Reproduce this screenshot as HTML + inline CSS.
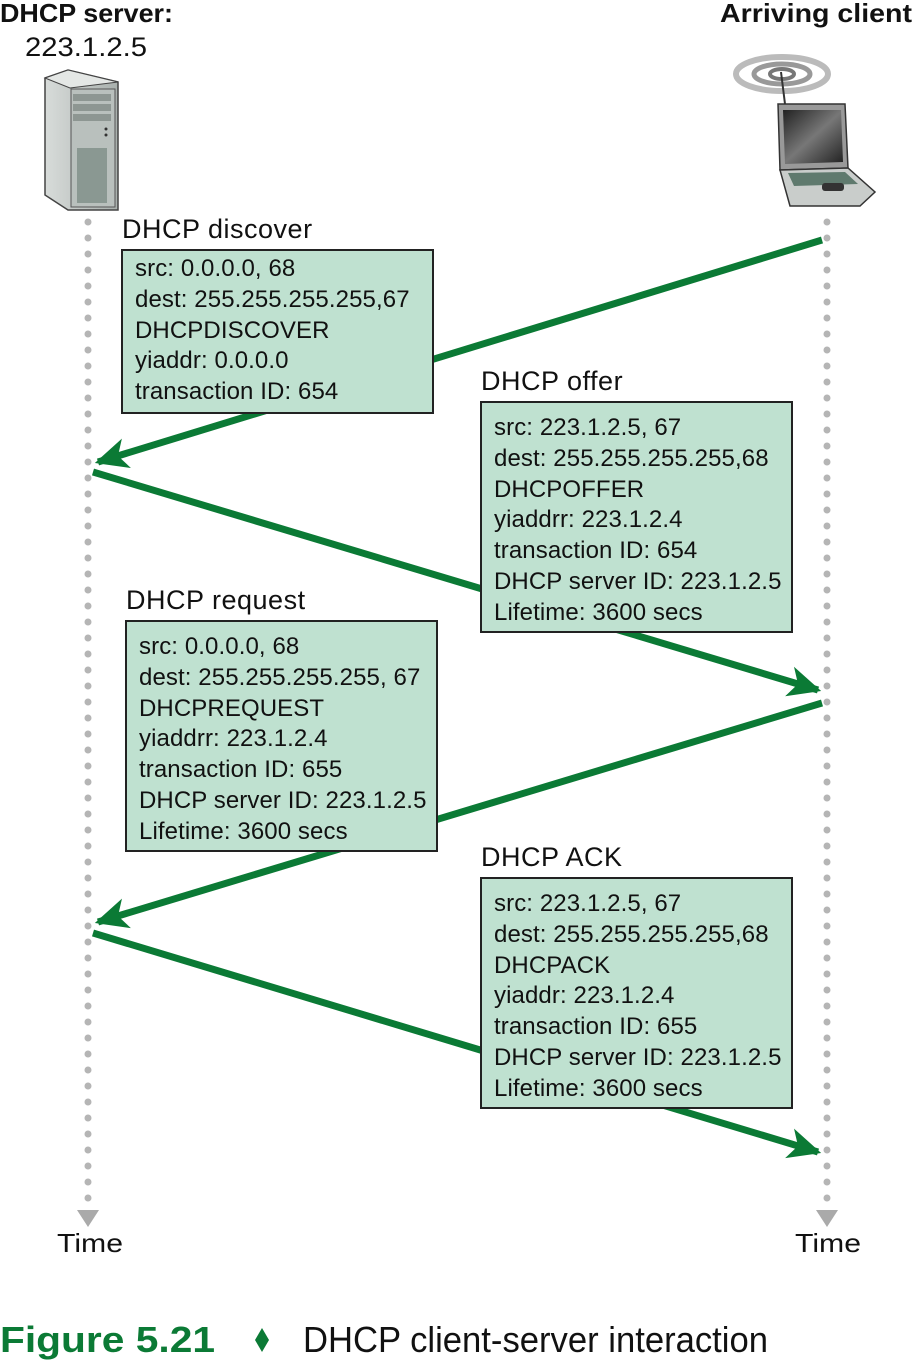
<!DOCTYPE html>
<html><head><meta charset="utf-8"><style>
html,body{margin:0;padding:0;background:#fff;}
svg{display:block;}
text{font-family:"Liberation Sans",sans-serif;fill:#111;}
</style></head><body>
<svg width="912" height="1360" viewBox="0 0 912 1360" xmlns="http://www.w3.org/2000/svg">
<defs>
<marker id="ah" markerUnits="userSpaceOnUse" markerWidth="44" markerHeight="44" refX="0" refY="0" orient="auto" viewBox="-32 -16 40 32">
<path d="M3,0 L-27,-14 L-19,0 L-27,14 Z" fill="#0b7a35"/>
</marker>
<linearGradient id="sv" x1="0" x2="1"><stop offset="0" stop-color="#d8dcda"/><stop offset="1" stop-color="#a9b0ad"/></linearGradient>
<linearGradient id="scr" x1="0" y1="0" x2="1" y2="1"><stop offset="0" stop-color="#222"/><stop offset=".5" stop-color="#777"/><stop offset="1" stop-color="#222"/></linearGradient>
</defs>
<text x="0" y="22" font-size="26" font-weight="bold" textLength="173" lengthAdjust="spacingAndGlyphs">DHCP server:</text>
<text x="25" y="56" font-size="27" textLength="122" lengthAdjust="spacingAndGlyphs">223.1.2.5</text>
<text x="720" y="22" font-size="26" font-weight="bold" textLength="192" lengthAdjust="spacingAndGlyphs">Arriving client</text>
<polygon points="45,78 68,70 118,82 118,210 68,210 45,195" fill="url(#sv)" stroke="#444" stroke-width="1.5"/>
<polygon points="45,78 68,70 118,82 70,88" fill="#e4e7e5" stroke="#444" stroke-width="1"/>
<rect x="71" y="89" width="44" height="118" fill="#b9c0bd" stroke="#555" stroke-width="1"/>
<rect x="73" y="94" width="38" height="7" fill="#8d9692"/>
<rect x="73" y="104" width="38" height="7" fill="#8d9692"/>
<rect x="73" y="114" width="38" height="7" fill="#8d9692"/>
<circle cx="106" cy="129" r="1.5" fill="#333"/><circle cx="106" cy="135" r="1.5" fill="#333"/>
<rect x="77" y="148" width="30" height="55" fill="#8a9892"/>
<ellipse cx="782" cy="74" rx="46" ry="17" fill="none" stroke="#bbb" stroke-width="6"/>
<ellipse cx="782" cy="74" rx="28" ry="10" fill="none" stroke="#999" stroke-width="5"/>
<ellipse cx="782" cy="74" rx="12" ry="5" fill="none" stroke="#777" stroke-width="4"/>
<line x1="781" y1="72" x2="785" y2="104" stroke="#333" stroke-width="2"/>
<polygon points="778,104 845,104 848,168 780,170" fill="#999" stroke="#333" stroke-width="1.5"/>
<polygon points="783,110 841,110 843,162 785,164" fill="url(#scr)"/>
<polygon points="780,170 848,168 875,192 860,206 790,206" fill="#c9cdcb" stroke="#333" stroke-width="1.5"/>
<polygon points="788,173 845,172 858,184 794,186" fill="#5f7a6e"/>
<rect x="822" y="183" width="22" height="8" rx="3" fill="#333"/>
<line x1="88" y1="222" x2="88" y2="1205" stroke="#b5b5b5" stroke-width="7" stroke-linecap="round" stroke-dasharray="0 16"/>
<line x1="827" y1="222" x2="827" y2="1205" stroke="#b5b5b5" stroke-width="7" stroke-linecap="round" stroke-dasharray="0 16"/>
<polygon points="77,1210 99,1210 88,1227" fill="#aaa"/>
<polygon points="816,1210 838,1210 827,1227" fill="#aaa"/>
<text x="57" y="1252" font-size="26" textLength="66" lengthAdjust="spacingAndGlyphs">Time</text>
<text x="795" y="1252" font-size="26" textLength="66" lengthAdjust="spacingAndGlyphs">Time</text>
<g stroke="#0b7a35" stroke-width="7" fill="none">
<line x1="822" y1="240" x2="98" y2="462" marker-end="url(#ah)"/>
<line x1="93" y1="472" x2="818" y2="690" marker-end="url(#ah)"/>
<line x1="822" y1="703" x2="98" y2="922" marker-end="url(#ah)"/>
<line x1="93" y1="933" x2="818" y2="1152" marker-end="url(#ah)"/>
</g>
<g fill="#bfe1d0" stroke="#222" stroke-width="2">
<rect x="122" y="250" width="311" height="163"/>
<rect x="481" y="402" width="311" height="230"/>
<rect x="126" y="621" width="311" height="230"/>
<rect x="481" y="878" width="311" height="230"/>
</g>
<g font-size="27" letter-spacing="0.5">
<text x="122" y="238">DHCP discover</text>
<text x="481" y="390">DHCP offer</text>
<text x="126" y="609">DHCP request</text>
<text x="481" y="866">DHCP ACK</text>
</g>
<g font-size="24" letter-spacing="0.1">
<text x="135" y="276">src: 0.0.0.0, 68</text>
<text x="135" y="307">dest: 255.255.255.255,67</text>
<text x="135" y="338">DHCPDISCOVER</text>
<text x="135" y="368">yiaddr: 0.0.0.0</text>
<text x="135" y="399">transaction ID: 654</text>

<text x="494" y="435">src: 223.1.2.5, 67</text>
<text x="494" y="466">dest: 255.255.255.255,68</text>
<text x="494" y="497">DHCPOFFER</text>
<text x="494" y="527">yiaddrr: 223.1.2.4</text>
<text x="494" y="558">transaction ID: 654</text>
<text x="494" y="589">DHCP server ID: 223.1.2.5</text>
<text x="494" y="620">Lifetime: 3600 secs</text>

<text x="139" y="654">src: 0.0.0.0, 68</text>
<text x="139" y="685">dest: 255.255.255.255, 67</text>
<text x="139" y="716">DHCPREQUEST</text>
<text x="139" y="746">yiaddrr: 223.1.2.4</text>
<text x="139" y="777">transaction ID: 655</text>
<text x="139" y="808">DHCP server ID: 223.1.2.5</text>
<text x="139" y="839">Lifetime: 3600 secs</text>

<text x="494" y="911">src: 223.1.2.5, 67</text>
<text x="494" y="942">dest: 255.255.255.255,68</text>
<text x="494" y="973">DHCPACK</text>
<text x="494" y="1003">yiaddr: 223.1.2.4</text>
<text x="494" y="1034">transaction ID: 655</text>
<text x="494" y="1065">DHCP server ID: 223.1.2.5</text>
<text x="494" y="1096">Lifetime: 3600 secs</text>
</g>
<text x="0" y="1352" font-size="36" font-weight="bold" style="fill:#0b7a35" textLength="215" lengthAdjust="spacingAndGlyphs">Figure 5.21</text>
<polygon points="262,1328 269,1340 262,1352 255,1340" fill="#0b7a35"/>
<text x="303" y="1352" font-size="36" textLength="465" lengthAdjust="spacingAndGlyphs">DHCP client-server interaction</text>
</svg>
</body></html>
